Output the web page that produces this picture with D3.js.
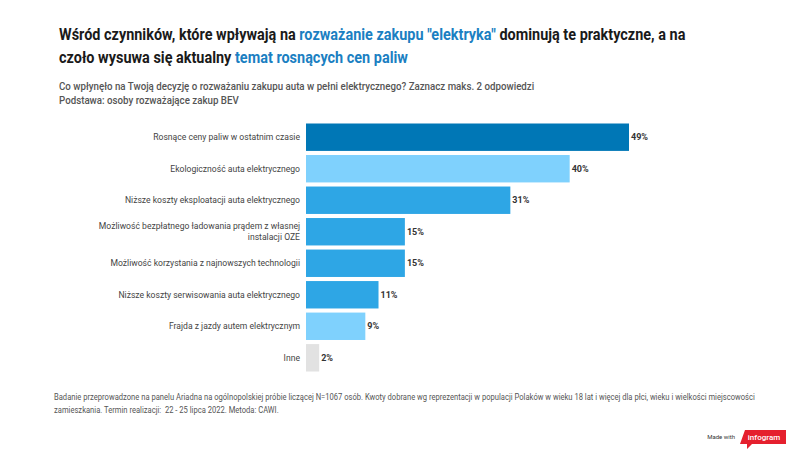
<meta charset="utf-8">
<head>
<script src="https://d3js.org/d3.v7.min.js"></script>
<style>
  body { margin: 0; background: #fff; }
  text { font-family: Roboto, "Noto Sans", sans-serif; white-space: pre; }
</style>
</head>
<body>
<div id="container"></div>
<script>

var categories = [
  ["Rosnące ceny paliw w ostatnim czasie"],
  ["Ekologiczność auta elektrycznego"],
  ["Niższe koszty eksploatacji auta elektrycznego"],
  ["Możliwość bezpłatnego ładowania prądem z własnej", "instalacji OZE"],
  ["Możliwość korzystania z najnowszych technologii"],
  ["Niższe koszty serwisowania auta elektrycznego"],
  ["Frajda z jazdy autem elektrycznym"],
  ["Inne"]
];
var values = [49, 40, 31, 15, 15, 11, 9, 2];
var colorKeys = ["dark", "light", "mid", "mid", "mid", "mid", "light", "grey"];
var palette = { dark: "#0077b6", light: "#7fd1fd", mid: "#2ea6e5", grey: "#e2e2e2" };

var width = 800, height = 452;
var svg = d3.select('#container').append('svg')
  .attr('width', width).attr('height', height);

// squeeze a text node horizontally to a target width (source font is condensed)
function fit(sel, x, target) {
  var w = sel.node().getComputedTextLength();
  var s = target / w;
  sel.attr('transform', 'translate(' + x + ',0) scale(' + s + ',1)');
  return s;
}

// title
var blue = "#1b7fc2";
var t1 = svg.append('text').attr('x', 0).attr('y', 40)
  .attr('font-size', 16).attr('font-weight', 700).attr('fill', '#1a1a1a');
t1.append('tspan').text('Wśród czynników, które wpływają na ');
t1.append('tspan').attr('fill', blue).text('rozważanie zakupu "elektryka"');
t1.append('tspan').text(' dominują te praktyczne, a na');
var s = fit(t1, 59, 627);

var t2 = svg.append('text').attr('x', 0).attr('y', 63)
  .attr('font-size', 16).attr('font-weight', 700).attr('fill', '#1a1a1a');
t2.append('tspan').text('czoło wysuwa się aktualny ');
t2.append('tspan').attr('fill', blue).text('temat rosnących cen paliw');
t2.attr('transform', 'translate(59,0) scale(' + s + ',1)');

// subtitle
var st1 = svg.append('text').attr('x', 0).attr('y', 90.5)
  .attr('font-size', 10.5).attr('font-weight', 500).attr('fill', '#555')
  .text('Co wpłynęło na Twoją decyzję o rozważaniu zakupu auta w pełni elektrycznego? Zaznacz maks. 2 odpowiedzi');
var s2 = fit(st1, 59, 476);
svg.append('text').attr('x', 0).attr('y', 104.5)
  .attr('font-size', 10.5).attr('font-weight', 500).attr('fill', '#555')
  .attr('transform', 'translate(59,0) scale(' + s2 + ',1)')
  .text('Podstawa: osoby rozważające zakup BEV');

// bars
var x = d3.scaleLinear().domain([0, 49]).range([306, 629]);
var y = d3.scaleBand().domain(d3.range(values.length)).range([123.5, 371.5]).paddingInner(0.13).paddingOuter(0);

var g = svg.append('g');
g.selectAll('rect').data(values).join('rect')
  .attr('x', x(0))
  .attr('y', (d, i) => y(i))
  .attr('width', d => x(d) - x(0))
  .attr('height', y.bandwidth())
  .attr('fill', (d, i) => palette[colorKeys[i]]);

g.selectAll('text.val').data(values).join('text')
  .attr('class', 'val')
  .attr('x', d => x(d) + 2)
  .attr('y', (d, i) => y(i) + y.bandwidth() / 2)
  .attr('dy', '0.35em')
  .attr('font-size', 9).attr('font-weight', 700).attr('fill', '#333')
  .text(d => d + '%');

var lab = g.selectAll('text.lab').data(categories).join('text')
  .attr('class', 'lab')
  .attr('x', 300)
  .attr('text-anchor', 'end')
  .attr('font-size', 8.6).attr('fill', '#444')
  .attr('y', (d, i) => y(i) + y.bandwidth() / 2);
lab.each(function(d) {
  var el = d3.select(this);
  var n = d.length;
  d.forEach(function(line, k) {
    el.append('tspan').attr('x', 300)
      .attr('dy', k === 0 ? (0.35 - (n - 1) * 0.65) + 'em' : '1.25em')
      .text(line);
  });
});

// footer
var f1 = svg.append('text').attr('x', 0).attr('y', 400)
  .attr('font-size', 8.6).attr('fill', '#555')
  .text('Badanie przeprowadzone na panelu Ariadna na ogólnopolskiej próbie liczącej N=1067 osób. Kwoty dobrane wg reprezentacji w populacji Polaków w wieku 18 lat i więcej dla płci, wieku i wielkości miejscowości');
var s3 = fit(f1, 54, 701);
svg.append('text').attr('x', 0).attr('y', 413)
  .attr('font-size', 8.6).attr('fill', '#555')
  .attr('transform', 'translate(54,0) scale(' + s3 + ',1)')
  .text('zamieszkania. Termin realizacji:  22 - 25 lipca 2022. Metoda: CAWI.');

// made with infogram
svg.append('text').attr('x', 735).attr('y', 439)
  .attr('text-anchor', 'end')
  .attr('font-size', 6).attr('fill', '#333')
  .text('Made with');
svg.append('path')
  .attr('d', 'M745,430 L786,430 L786,444 L752,444 L747,449 L747,444 L740,444 Z')
  .attr('fill', '#e5202e');
svg.append('text').attr('x', 764).attr('y', 440)
  .attr('text-anchor', 'middle')
  .attr('font-size', 8).attr('font-weight', 500).attr('fill', '#fff')
  .text('infogram');

</script>
</body>
